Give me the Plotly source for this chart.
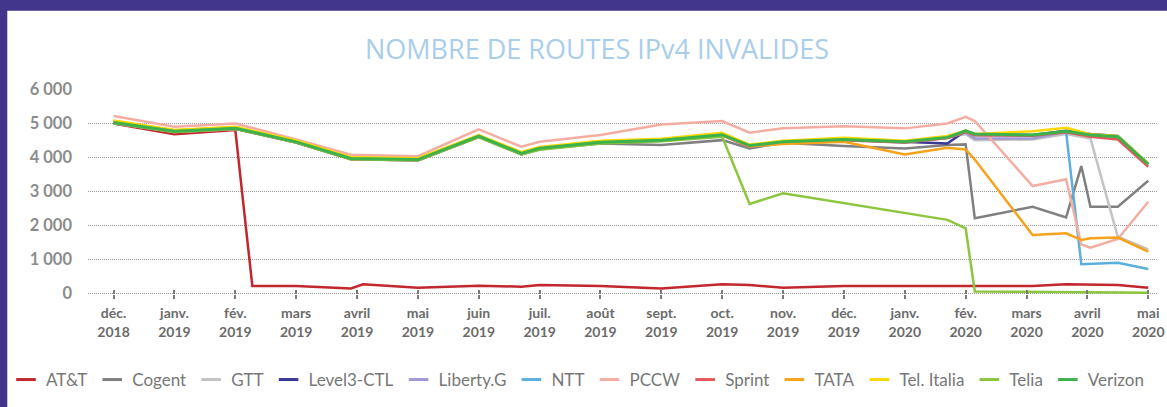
import plotly.graph_objects as go

# ---------------- data ----------------
MONTH_LABELS = ["déc.<br>2018", "janv.<br>2019", "fév.<br>2019", "mars<br>2019", "avril<br>2019",
                "mai<br>2019", "juin<br>2019", "juil.<br>2019", "août<br>2019", "sept.<br>2019",
                "oct.<br>2019", "nov.<br>2019", "déc.<br>2019", "janv.<br>2020", "fév.<br>2020",
                "mars<br>2020", "avril<br>2020", "mai<br>2020"]
MONTH_POS = list(range(len(MONTH_LABELS)))

# sample positions, in months since déc. 2018
X_POS = [0, 1, 2, 2.28, 3, 3.9, 4.1, 5, 6, 6.7, 7, 8, 9, 10, 10.45, 11, 12, 13, 13.7, 14,
         14.15, 15.1, 15.65, 15.9, 16.05, 16.5, 17]

ATT = [4990, 4670, 4800, 220, 220, 150, 270, 170, 230, 200, 250, 220, 150, 270, 250, 170, 220, 220,
       None, 220, None, 220, 270, None, None, 250, 170]
COGENT = [4990, 4740, 4830, None, 4430, 3940, None, 3900, 4590, 4080, 4230, 4400, 4355, 4500, 4257,
          4420, 4325, 4257, 4355, 4375, 2205, 2545, 2235, 3740, 2545, 2545, 3310]
GTT = [5000, 4740, 4830, None, 4430, 3940, None, 3910, 4600, 4090, 4240, 4420, 4480, 4640, 4310,
       4430, 4500, 4430, 4560, 4677, 4500, 4520, 4677, None, 4550, 1666, 1296]
LEVEL3 = [5030, 4770, 4855, None, 4455, 3965, None, 3935, 4625, 4115, 4265, 4445, 4505, 4665, 4330,
          4455, 4520, 4440, 4400, 4775, 4670, 4650, 4775, None, 4680, 4620, 3810]
LIBERTY = [5010, 4750, 4840, None, 4440, 3950, None, 3920, 4610, 4100, 4250, 4430, 4490, 4650, 4320,
           4440, 4510, 4440, 4570, 4716, 4550, 4550, 4745, None, 4620, 4600, 3790]
NTT = [5010, 4750, 4840, None, 4440, 3950, None, 3920, 4610, 4100, 4250, 4430, 4490, 4650, 4320,
       4440, 4510, 4440, 4570, 4740, 4640, 4630, 4740, 860, None, 905, 720]
PCCW = [5210, 4890, 4990, None, 4520, 4070, None, 4030, 4815, 4305, 4450, 4650, 4960, 5060, 4720,
        4845, 4910, 4845, 4990, 5185, 5060, 3152, 3350, 1440, 1345, 1600, 2690]
SPRINT = [5000, 4740, 4830, None, 4430, 3940, None, 3910, 4600, 4090, 4240, 4420, 4480, 4640, 4310,
          4430, 4500, 4430, 4560, 4740, 4640, 4630, 4730, None, 4600, 4520, 3720]
TATA = [5060, 4790, 4880, None, 4470, 3990, None, 3950, 4630, 4130, 4280, 4460, 4510, 4650, 4320,
        4390, 4450, 4080, 4276, 4228, 3930, 1715, 1765, 1570, 1620, 1640, 1226]
TEL_ITALIA = [5080, 4800, 4890, None, 4490, 4000, None, 3970, 4650, 4150, 4300, 4480, 4540, 4716, 4370,
              4480, 4570, 4480, 4620, 4775, 4680, 4760, 4860, None, 4670, 4620, 3820]
TELIA = [5000, 4740, 4830, None, 4430, 3940, None, 3910, 4590, 4080, 4220, 4400, 4470, 4600, 2625,
         2940, None, None, 2160, 1910, 60, 40, None, None, None, 30, 25]
VERIZON = [5020, 4760, 4850, None, 4450, 3960, None, 3930, 4620, 4110, 4260, 4440, 4500, 4660, 4340,
           4450, 4520, 4450, 4580, 4775, 4680, 4650, 4760, None, 4650, 4600, 3790]

SERIES_NAMES = ["AT&T", "Cogent", "GTT", "Level3-CTL", "Liberty.G", "NTT", "PCCW", "Sprint", "TATA",
                "Tel. Italia", "Telia", "Verizon"]
SERIES_VALUES = [ATT, COGENT, GTT, LEVEL3, LIBERTY, NTT, PCCW, SPRINT, TATA, TEL_ITALIA, TELIA, VERIZON]
SERIES_COLORS = ["#c1272d", "#808080", "#c3c3c3", "#3b3794", "#a298d6", "#5aafdc", "#f4ada2",
                 "#e2585b", "#f7a21b", "#ffd700", "#8cc63f", "#3cb34a"]

Y_TICKS = [0, 1000, 2000, 3000, 4000, 5000, 6000]
Y_TICK_TEXT = ["0", "1 000", "2 000", "3 000", "4 000", "5 000", "6 000"]

# ---------------- layout constants ----------------
W, H = 1167, 407
ML, MR, MT, MB = 88, 9, 89, 111
Y_MIN = -73
PW, PH = W - ML - MR, H - MT - MB
PURPLE = "#42368a"

fig = go.Figure()
for name, vals, col in zip(SERIES_NAMES, SERIES_VALUES, SERIES_COLORS):
    fig.add_trace(go.Scatter(x=X_POS, y=vals, name=name, mode="lines", connectgaps=True,
                             legendgroup=name, showlegend=False,
                             line=dict(color=col, width=3 if name == "Verizon" else 2.5),
                             hovertemplate=name + ": %{y}<extra></extra>"))
# legend entries with short dash symbols
for name, col in zip(SERIES_NAMES, SERIES_COLORS):
    fig.add_trace(go.Scatter(x=[None], y=[None], name=name, mode="markers", legendgroup=name,
                             marker=dict(symbol="line-ew", size=14, color=col,
                                         line=dict(color=col, width=3)),
                             hoverinfo="skip"))

# helper trace for the overlaid tick axis
fig.add_trace(go.Scatter(x=[None], y=[None], xaxis="x2", showlegend=False, hoverinfo="skip"))

zero_pos = -Y_MIN / (6000 - Y_MIN)


def px_x(p):
    return (p - ML) / PW


def px_y(p):
    return (H - MB - p) / PH


fig.update_layout(
    width=W, height=H,
    margin=dict(l=ML, r=MR, t=MT, b=MB, autoexpand=False),
    paper_bgcolor="white", plot_bgcolor="white",
    title=dict(text="NOMBRE DE ROUTES IPv4 INVALIDES", x=597 / W, xanchor="center",
               xref="container", yref="container", y=1 - 50 / H, yanchor="middle",
               font=dict(family="Open Sans", size=27, color="#a9cdea")),
    xaxis=dict(range=[-0.42, 17.16], tickvals=MONTH_POS, ticktext=MONTH_LABELS,
               showgrid=False, zeroline=False, showline=False,
               ticks="outside", ticklen=4, tickwidth=2, tickcolor="#7a7a7a",
               anchor="free", position=zero_pos, ticklabelstandoff=3,
               tickfont=dict(family="Lato", size=14, color="#6b6b6b", weight="bold")),
    xaxis2=dict(matches="x", overlaying="x", tickvals=MONTH_POS, showticklabels=False,
                showgrid=False, zeroline=False, showline=False,
                ticks="inside", ticklen=4, tickwidth=2, tickcolor="#7a7a7a",
                anchor="free", position=zero_pos),
    yaxis=dict(range=[Y_MIN, 6000], tickvals=Y_TICKS, ticktext=Y_TICK_TEXT,
               showgrid=True, gridcolor="#9a9a9a", griddash="1px,1px", gridwidth=1,
               zeroline=False, showline=False, ticks="", ticklabelstandoff=15,
               tickfont=dict(family="Lato", size=16.5, color="#8c8c8c", weight="bold")),
    legend=dict(orientation="h", xref="paper", x=px_x(6), xanchor="left",
                yref="paper", y=px_y(380), yanchor="middle",
                bgcolor="rgba(0,0,0,0)", borderwidth=0, maxheight=200,
                font=dict(family="Lato", size=17, color="#777777"), itemwidth=30,
                tracegroupgap=0, itemsizing="trace"),
    showlegend=True,
    shapes=[
        dict(type="rect", xref="paper", yref="paper", x0=px_x(0), x1=px_x(7.3),
             y0=px_y(H), y1=px_y(0), fillcolor=PURPLE, line=dict(width=0), layer="above"),
        dict(type="rect", xref="paper", yref="paper", x0=px_x(0), x1=px_x(W),
             y0=px_y(10.7), y1=px_y(0), fillcolor=PURPLE, line=dict(width=0), layer="above"),
    ],
)

fig.write_html("out.html", config={"displayModeBar": False},
               post_script="document.body.style.margin='0';document.body.style.overflow='hidden';")
